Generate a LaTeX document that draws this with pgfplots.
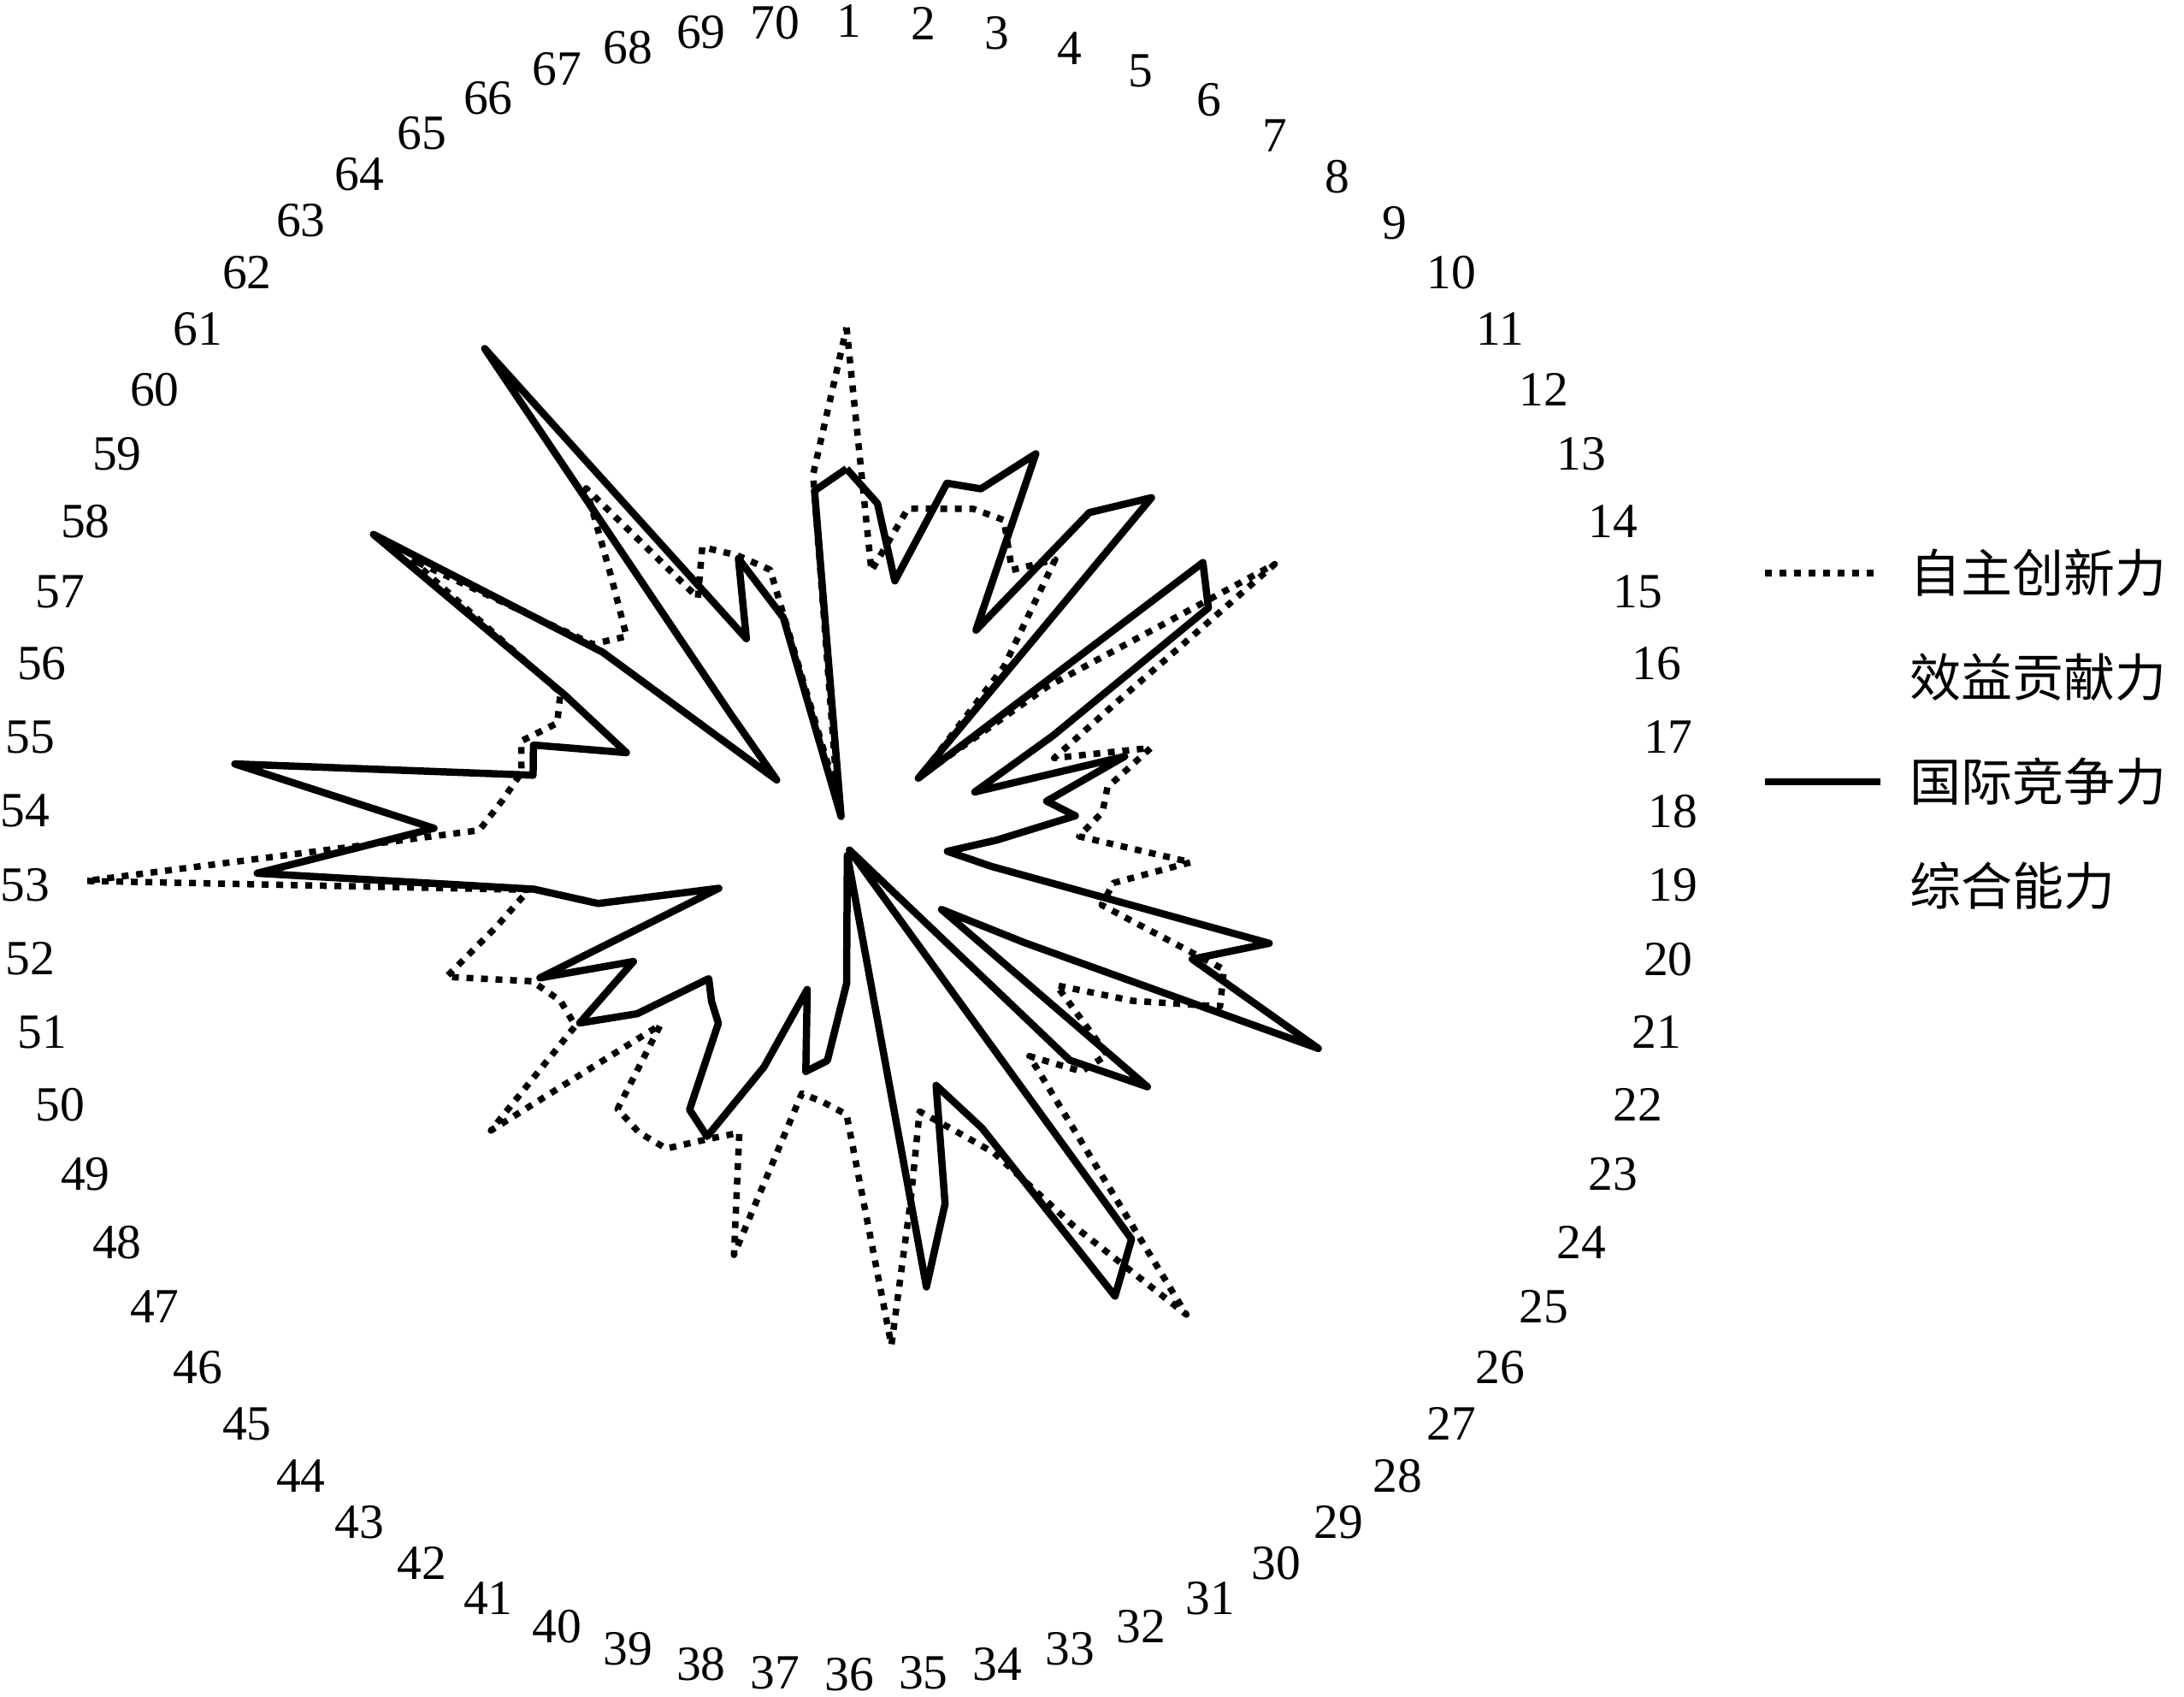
\documentclass[border=0pt]{standalone}
\usepackage{fontspec}
\setmainfont{Liberation Serif}
\newfontfamily\cjk{Noto Sans CJK SC}
\usepackage{pgfplots}
\usepackage{pgfplotstable}
\usepgfplotslibrary{polar}
\usetikzlibrary{calc}
\pgfplotsset{compat=1.18}

% 自主创新力 scores for the 70 items (item 71 repeats item 1 to close the ring)
\pgfplotstableread{
k r
1 60.7
2 32.4
3 40.2
4 41.0
5 42.2
6 42.4
7 37.7
8 41.5
9 28.0
10 12.0
11 30.0
12 60.0
13 36.2
14 26.4
15 37.4
16 31.3
17 30.2
18 27.2
19 40.3
20 31.5
21 30.6
22 46.4
23 47.5
24 38.0
25 29.4
26 39.0
27 38.0
28 32.5
29 67.6
30 51.5
31 39.7
32 35.3
33 32.1
34 42.0
35 58.5
36 31.3
37 30.0
38 29.3
39 49.5
40 35.7
41 38.0
42 41.1
43 41.3
44 40.7
45 30.1
46 53.2
47 38.0
48 38.0
49 40.0
50 49.2
51 42.0
52 37.5
53 89.0
54 43.0
55 40.6
56 39.0
57 40.0
58 36.8
59 38.0
60 61.0
61 38.0
62 35.6
63 41.8
64 51.8
65 33.9
66 38.9
67 36.4
68 33.6
69 6.0
70 43.7
71 60.7
}\innovation

% 国际竞争力 scores
\pgfplotstableread{
k r
1 44.2
2 40.3
3 31.6
4 44.1
5 44.7
6 51.0
7 29.5
8 48.3
9 54.2
10 11.6
11 53.3
12 50.7
13 27.4
14 16.3
15 34.2
16 24.0
17 27.0
18 17.6
19 11.8
20 17.1
21 50.7
22 42.5
23 60.0
24 23.7
25 13.3
26 45.0
27 36.1
28 0.5
29 56.7
30 61.2
31 36.5
32 29.8
33 43.3
34 52.3
35 1.0
36 16.0
37 25.1
38 26.7
39 17.3
40 27.5
41 37.6
42 35.8
43 25.5
44 24.0
45 22.3
46 31.3
47 37.4
48 28.3
49 39.0
50 15.7
51 29.8
52 36.9
53 69.0
54 48.3
55 72.2
56 37.6
57 38.5
58 28.0
59 37.4
60 66.3
61 36.5
62 11.3
63 20.6
64 72.0
65 39.1
66 27.0
67 36.0
68 27.8
69 3.6
70 41.8
71 44.2
}\competition

\begin{document}
\begin{tikzpicture}
\begin{polaraxis}[
  scale only axis, width=400pt, height=400pt,
  xmin=-270, xmax=90, ymin=0, ymax=100,
  hide axis, clip=false,
  legend cell align=left,
  legend image code/.code={\draw[#1] (0pt,0pt) -- (27pt,0pt);},
  legend style={draw=none, fill=none,
    at={(axis description cs:1.035,0.675)}, anchor=north west,
    inner sep=0pt, outer sep=0pt, row sep=12.4pt, column sep=6pt,
    font=\cjk\fontsize{12}{12}\selectfont,
    nodes={inner sep=0pt, text height=10.5pt, text depth=1.5pt, anchor=west}},
]
\addplot[black, line width=1.5pt, line join=round, dash pattern=on 1.6pt off 1.8pt]
  table[x expr={90-(\thisrow{k}-1)*5.142857}, y=r] {\innovation};
\addlegendentry{自主创新力}
\addlegendimage{white, line width=0.1pt}
\addlegendentry{效益贡献力}
\addplot[black, line width=1.7pt, line join=round]
  table[x expr={90-(\thisrow{k}-1)*5.142857}, y=r] {\competition};
\addlegendentry{国际竞争力}
\addlegendimage{white, line width=0.1pt}
\addlegendentry{综合能力}
\coordinate (O) at (axis cs:0,0);
\end{polaraxis}
% item numbers around the ring, pushed out by half their extent
\foreach \k in {1,...,70} {
  \pgfmathsetmacro\ang{90-(\k-1)*5.142857}
  \pgfmathsetmacro\halfw{(\k<10) ? 2.9 : 4.2}
  \pgfmathsetmacro\rr{188.5+\halfw*abs(cos(\ang))+4.8*abs(sin(\ang))}
  \node[inner sep=0pt, font=\fontsize{11.5}{13.5}\selectfont]
    at ($(O)+(0.6pt,-0.3pt)+(\ang:\rr pt)$) {\k};
}
\pgfresetboundingbox
\path[use as bounding box] ($(O)+(-198pt,-198.6pt)$) rectangle ($(O)+(312.8pt,198pt)$);
\end{tikzpicture}
\end{document}
